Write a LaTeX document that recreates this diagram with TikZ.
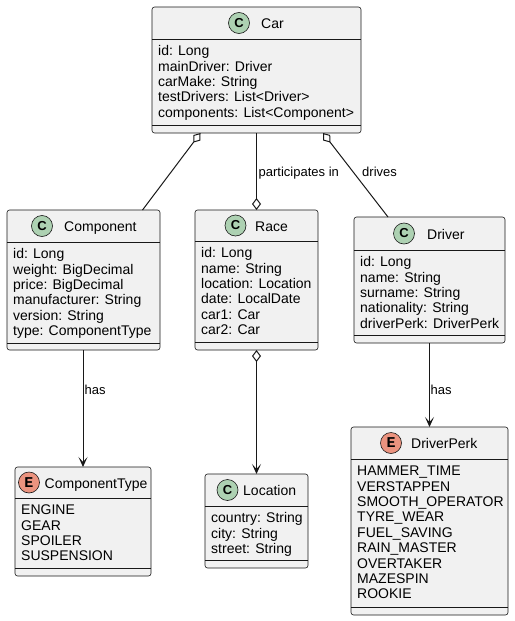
\documentclass[tikz,border=0pt]{standalone}
\usepackage{fontspec}
\setmainfont{Liberation Sans}
\newfontfamily\iconmono{Liberation Mono}
\usetikzlibrary{arrows.meta}
\definecolor{boxfill}{HTML}{F1F1F1}
\definecolor{ink}{HTML}{181818}
\definecolor{cgreen}{HTML}{ADD1B2}
\definecolor{ered}{HTML}{EB937F}
\begin{document}
\begin{tikzpicture}[x=1pt,y=-1pt,
  box/.style={draw=ink, line width=0.6pt, fill=boxfill, rounded corners=2.5pt, inner sep=0pt, outer sep=0pt},
  sepline/.style={draw=ink, line width=0.6pt},
  iconC/.style={circle, draw=ink, line width=0.6pt, fill=cgreen, minimum size=21pt, inner sep=0pt, font=\fontsize{13}{13}\selectfont\bfseries},
  iconE/.style={circle, draw=ink, line width=0.6pt, fill=ered, minimum size=21pt, inner sep=0pt, font=\iconmono\fontsize{15}{15}\selectfont\bfseries},
  title/.style={anchor=base west, inner sep=0pt, font=\fontsize{14}{17}\selectfont},
  attrs/.style={anchor=north west, inner sep=0pt, align=left, font=\fontsize{14}{15.4}\selectfont},
  conn/.style={draw=ink, line width=1pt},
  lbl/.style={anchor=base west, inner sep=0pt, font=\fontsize{13}{15}\selectfont},
  aggstart/.style={{Diamond[open, length=12pt, width=9pt]}-},
  aggend/.style={-{Diamond[open, length=12pt, width=9pt]}},
  aggarrow/.style={{Diamond[open, length=12pt, width=9pt]}-{Stealth[length=10pt, width=9pt, inset=5pt]}},
  arrowend/.style={-{Stealth[length=10pt, width=9pt, inset=5pt]}}
]
\useasboundingbox (0,0) rectangle (514,621);

% ---------- Car ----------
\node[box, minimum width=209pt, minimum height=126pt] (car) at (256.5,70) {};
\draw[sepline] (152,39) -- (361,39);
\draw[sepline] (152,125) -- (361,125);
\node[iconC] (car-i) at (239,23) {C};
\node[title] (car-t) at (261,28.3) {Car};
\node[attrs] (car-a) at (158,44.5) {\rule{0pt}{11pt}id: Long\\mainDriver: Driver\\carMake: String\\testDrivers: List<Driver>\\components: List<Component>};

% ---------- Component ----------
\node[box, minimum width=153pt, minimum height=140pt] (comp) at (83.5,280) {};
\draw[sepline] (7,242) -- (160,242);
\draw[sepline] (7,343) -- (160,343);
\node[iconC] (comp-i) at (42,226) {C};
\node[title] (comp-t) at (64,231.3) {Component};
\node[attrs] (comp-a) at (13,247.5) {\rule{0pt}{11pt}id: Long\\weight: BigDecimal\\price: BigDecimal\\manufacturer: String\\version: String\\type: ComponentType};

% ---------- Race ----------
\node[box, minimum width=123pt, minimum height=140pt] (race) at (256.5,280) {};
\draw[sepline] (195,241) -- (318,241);
\draw[sepline] (195,342) -- (318,342);
\node[iconC] (race-i) at (235.5,225.5) {C};
\node[title] (race-t) at (255,231) {Race};
\node[attrs] (race-a) at (201,246.5) {\rule{0pt}{11pt}id: Long\\name: String\\location: Location\\date: LocalDate\\car1: Car\\car2: Car};

% ---------- Driver ----------
\node[box, minimum width=151pt, minimum height=126pt] (driver) at (429.5,280) {};
\draw[sepline] (354,250) -- (505,250);
\draw[sepline] (354,335) -- (505,335);
\node[iconC] (driver-i) at (404,233.5) {C};
\node[title] (driver-t) at (427,239) {Driver};
\node[attrs] (driver-a) at (360,255.5) {\rule{0pt}{11pt}id: Long\\name: String\\surname: String\\nationality: String\\driverPerk: DriverPerk};

% ---------- ComponentType ----------
\node[box, minimum width=136pt, minimum height=109pt] (ctype) at (83,521.5) {};
\draw[sepline] (15,498) -- (151,498);
\draw[sepline] (15,568) -- (151,568);
\node[iconE] (ctype-i) at (29,482.5) {E};
\node[title] (ctype-t) at (44.5,488) {ComponentType};
\node[attrs] (ctype-a) at (21,503.5) {\rule{0pt}{11pt}ENGINE\\GEAR\\SPOILER\\SUSPENSION};

% ---------- Location ----------
\node[box, minimum width=103pt, minimum height=94pt] (loc) at (256.5,521) {};
\draw[sepline] (205,506) -- (308,506);
\draw[sepline] (205,560) -- (308,560);
\node[iconC] (loc-i) at (227.5,490) {C};
\node[title] (loc-t) at (243,495.3) {Location};
\node[attrs] (loc-a) at (211,511.5) {\rule{0pt}{11pt}country: String\\city: String\\street: String};

% ---------- DriverPerk ----------
\node[box, minimum width=157pt, minimum height=188pt] (perk) at (429.5,521) {};
\draw[sepline] (351,459) -- (508,459);
\draw[sepline] (351,607) -- (508,607);
\node[iconE] (perk-i) at (391,443) {E};
\node[title] (perk-t) at (411,448.3) {DriverPerk};
\node[attrs] (perk-a) at (357,464.5) {\rule{0pt}{11pt}HAMMER\_TIME\\VERSTAPPEN\\SMOOTH\_OPERATOR\\TYRE\_WEAR\\FUEL\_SAVING\\RAIN\_MASTER\\OVERTAKER\\MAZESPIN\\ROOKIE};

% ---------- Connectors ----------
\draw[conn, aggstart] ([xshift=-56pt]car.south) -- ([xshift=59pt]comp.north);
\draw[conn, aggend] (car.south) -- (race.north);
\draw[conn, aggstart] ([xshift=66.5pt]car.south) -- ([xshift=-41.5pt]driver.north);
\draw[conn, arrowend] (ctype.north |- comp.south) -- (ctype.north);
\draw[conn, aggarrow] (race.south) -- (loc.north);
\draw[conn, arrowend] (driver.south) -- (perk.north);

% ---------- Labels ----------
\node[lbl] (l-part) at (258.5,176) {participates in};
\node[lbl] (l-drives) at (362,176) {drives};
\node[lbl] (l-has1) at (84.5,394) {has};
\node[lbl] (l-has2) at (430.5,394) {has};
\end{tikzpicture}
\end{document}
